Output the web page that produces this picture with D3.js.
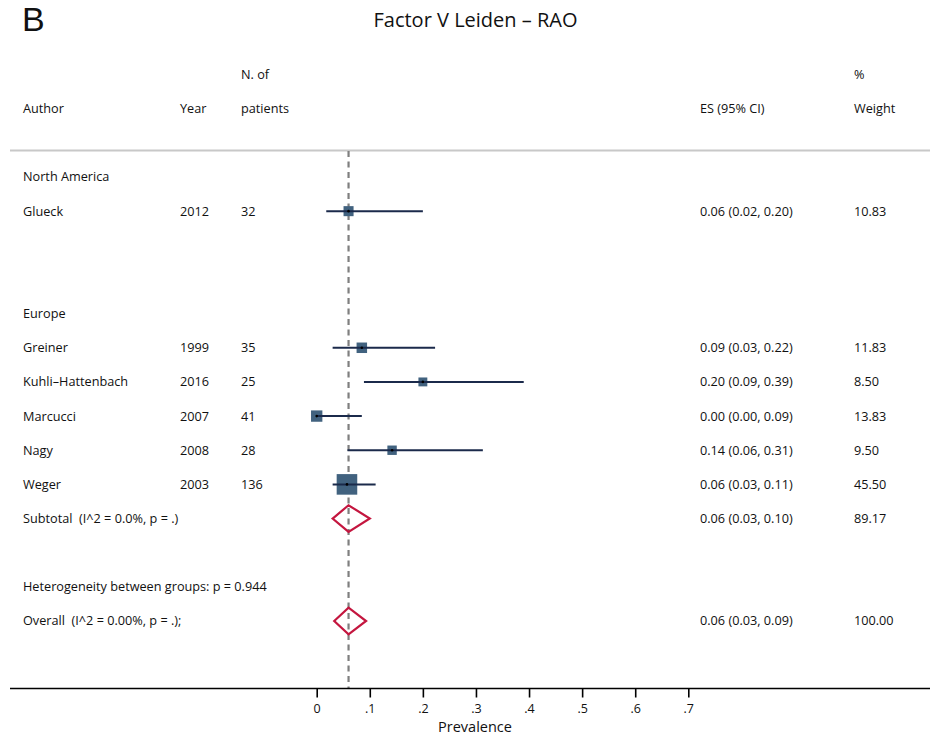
<!DOCTYPE html>
<html><head><meta charset="utf-8">
<script src="https://cdn.jsdelivr.net/npm/d3@7"></script>
<style>body{margin:0;background:#fff}svg{display:block}text{font-family:"Open Sans",sans-serif;fill:#111;white-space:pre}</style>
</head><body>
<svg id="c" width="930" height="738"></svg>
<script>
const authors = ["Glueck","Greiner","Kuhli\u2013Hattenbach","Marcucci","Nagy","Weger"];
const years = ["2012","1999","2016","2007","2008","2003"];
const patients = ["32","35","25","41","28","136"];
const es = [0.06,0.085,0.20,0.0,0.142,0.057];
const lo = [0.018,0.03,0.089,0.0,0.058,0.03];
const hi = [0.20,0.223,0.39,0.085,0.313,0.111];
const esText = ["0.06 (0.02, 0.20)","0.09 (0.03, 0.22)","0.20 (0.09, 0.39)","0.00 (0.00, 0.09)","0.14 (0.06, 0.31)","0.06 (0.03, 0.11)"];
const weights = [10.83,11.83,8.50,13.83,9.50,45.50];
const studyRows = [1,5,6,7,8,9];
const groupLabels = [{row:0,text:"North America"},{row:4,text:"Europe"}];
const pooled = [
  {row:10,label:"Subtotal  (I^2 = 0.0%, p = .)",es:0.06,lo:0.03,hi:0.10,text:"0.06 (0.03, 0.10)",w:"89.17"},
  {row:13,label:"Overall  (I^2 = 0.00%, p = .);",es:0.06,lo:0.033,hi:0.093,text:"0.06 (0.03, 0.09)",w:"100.00"}
];
const hetero = {row:12,text:"Heterogeneity between groups: p = 0.944"};
const overallES = 0.06;
const ticks = [0,0.1,0.2,0.3,0.4,0.5,0.6,0.7];
const tickLabels = ["0",".1",".2",".3",".4",".5",".6",".7"];

const svg = d3.select("#c");
const x = d3.scaleLinear().domain([0,0.7]).range([316.7,688.3]);
const y = d3.scaleLinear().domain([0,13]).range([177,621]);
const colX = {author:23, year:180, n:241, es:700, w:854};
const fs = 12.7;

svg.append("text").attr("x",22).attr("y",31).style("font-family","'Liberation Sans',sans-serif").style("font-size","34px").text("B");
svg.append("text").attr("x",475.5).attr("y",27).attr("text-anchor","middle").style("font-size","20px").text("Factor V Leiden \u2013 RAO");

const hdr = [[colX.n,75,"N. of"],[colX.w,75,"%"],[colX.author,109,"Author"],[colX.year,109,"Year"],[colX.n,109,"patients"],[colX.es,109,"ES (95% CI)"],[colX.w,109,"Weight"]];
hdr.forEach(h=>svg.append("text").attr("x",h[0]).attr("y",h[1]).attr("dy","0.35em").style("font-size",fs+"px").text(h[2]));

svg.append("line").attr("x1",10).attr("x2",930).attr("y1",150.5).attr("y2",150.5).attr("stroke","#c8c8c8").attr("stroke-width",2);

svg.append("line").attr("x1",x(overallES)).attr("x2",x(overallES)).attr("y1",151).attr("y2",688)
  .attr("stroke","#7f7f7f").attr("stroke-width",2.2).attr("stroke-dasharray","6,4.5");

groupLabels.forEach(g=>svg.append("text").attr("x",colX.author).attr("y",y(g.row)).attr("dy","0.35em").style("font-size",fs+"px").text(g.text));

studyRows.forEach((r,i)=>{
  const yy=y(r);
  const g=svg.append("g");
  g.append("text").attr("x",colX.author).attr("y",yy).attr("dy","0.35em").style("font-size",fs+"px").text(authors[i]);
  g.append("text").attr("x",colX.year).attr("y",yy).attr("dy","0.35em").style("font-size",fs+"px").text(years[i]);
  g.append("text").attr("x",colX.n).attr("y",yy).attr("dy","0.35em").style("font-size",fs+"px").text(patients[i]);
  g.append("text").attr("x",colX.es).attr("y",yy).attr("dy","0.35em").style("font-size",fs+"px").text(esText[i]);
  g.append("text").attr("x",colX.w).attr("y",yy).attr("dy","0.35em").style("font-size",fs+"px").text(weights[i].toFixed(2));
  const s=3.05*Math.sqrt(weights[i]);
  g.append("rect").attr("x",x(es[i])-s/2).attr("y",yy-s/2).attr("width",s).attr("height",s).attr("fill","#41627f");
  g.append("line").attr("x1",x(lo[i])).attr("x2",x(hi[i])).attr("y1",yy).attr("y2",yy).attr("stroke","#1b2a4b").attr("stroke-width",2);
  g.append("circle").attr("cx",x(es[i])).attr("cy",yy).attr("r",1.3).attr("fill","#000");
});

pooled.forEach(p=>{
  const yy=y(p.row);
  svg.append("text").attr("x",colX.author).attr("y",yy).attr("dy","0.35em").style("font-size",fs+"px").text(p.label);
  svg.append("text").attr("x",colX.es).attr("y",yy).attr("dy","0.35em").style("font-size",fs+"px").text(p.text);
  svg.append("text").attr("x",colX.w).attr("y",yy).attr("dy","0.35em").style("font-size",fs+"px").text(p.w);
  const h=13.3;
  svg.append("path").attr("d",`M${x(p.lo)},${yy}L${x(p.es)},${yy-h}L${x(p.hi)},${yy}L${x(p.es)},${yy+h}Z`)
    .attr("fill","none").attr("stroke","#c4163f").attr("stroke-width",2.2);
});
svg.append("text").attr("x",colX.author).attr("y",y(hetero.row)).attr("dy","0.35em").style("font-size",fs+"px").text(hetero.text);

svg.append("line").attr("x1",10).attr("x2",930).attr("y1",688.5).attr("y2",688.5).attr("stroke","#000").attr("stroke-width",1.6);
const ax = svg.append("g").attr("transform","translate(0,688.5)")
  .call(d3.axisBottom(x).tickValues(ticks).tickFormat((d,i)=>tickLabels[i]).tickSize(9).tickPadding(7));
ax.select(".domain").remove();
ax.selectAll(".tick line").attr("stroke","#000").attr("stroke-width",1.6);
ax.selectAll(".tick text").style("font-size","12.5px").style("font-family","'Open Sans',sans-serif").attr("fill","#111");
svg.append("text").attr("x",475).attr("y",727).attr("dy","0.35em").attr("text-anchor","middle").style("font-size","14.5px").text("Prevalence");
</script>
</body></html>
